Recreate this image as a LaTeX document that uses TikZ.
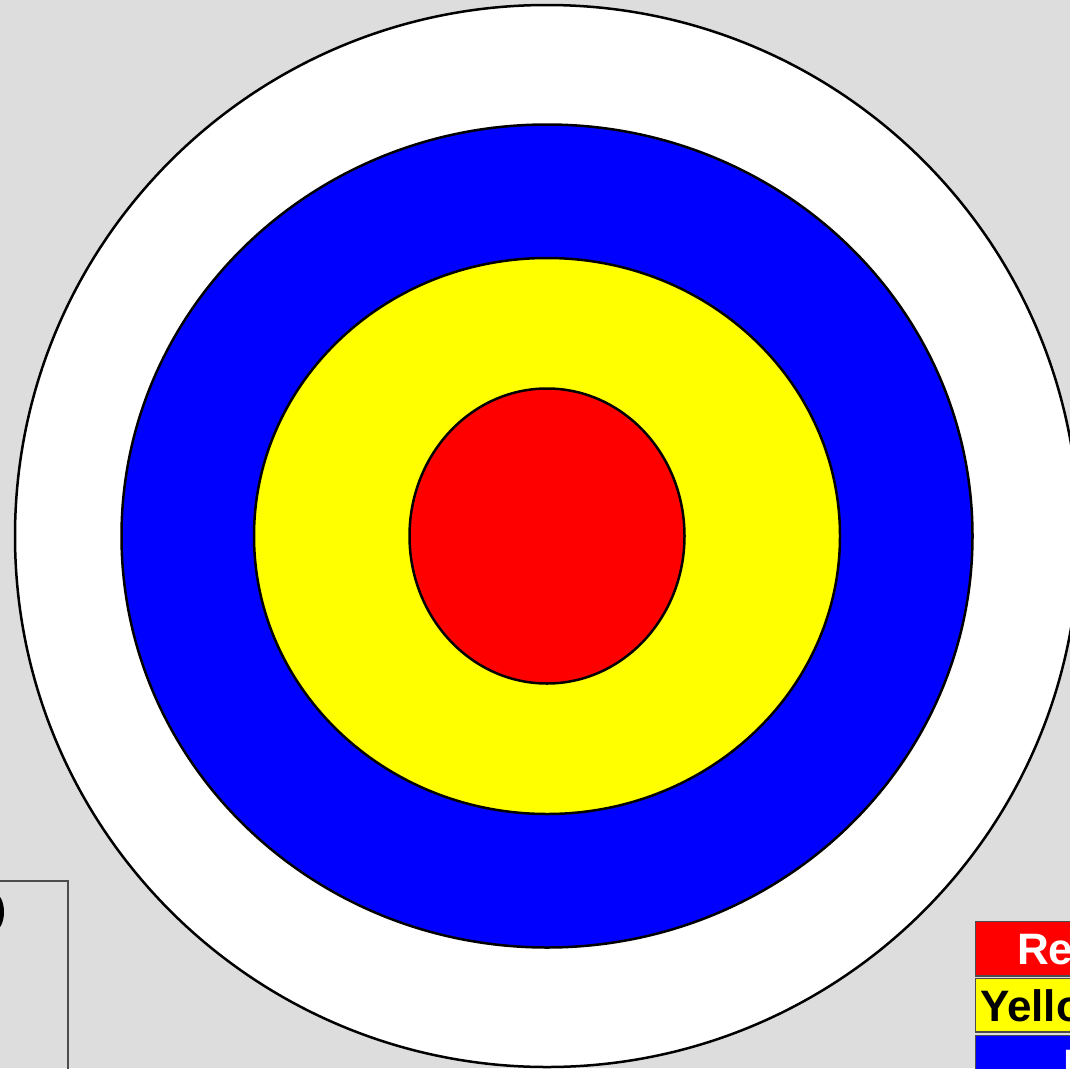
\documentclass[tikz,border=0pt]{standalone}
\usepackage{fontspec}
\setmainfont{Liberation Sans}
\begin{document}
\begin{tikzpicture}[x=1pt,y=-1pt,
  ring/.style={draw=black,line width=2.5pt},
  legbox/.style={draw=black!70,line width=1.2pt},
  legtext/.style={font=\fontsize{44}{44}\selectfont\bfseries,inner sep=0pt,anchor=base west}]
\useasboundingbox (0,0) rectangle (1070,1068);
\clip (0,0) rectangle (1070,1068);
\fill[fill={rgb,255:red,221;green,221;blue,221}] (0,0) rectangle (1070,1068);
\coordinate (c) at (547,536);
\draw[ring,fill=white] (c) ellipse [x radius=532,y radius=531];
\draw[ring,fill={rgb,255:red,0;green,0;blue,255}] (c) ellipse [x radius=425.5,y radius=411.5];
\draw[ring,fill={rgb,255:red,255;green,255;blue,0}] (c) ellipse [x radius=293,y radius=278];
\draw[ring,fill={rgb,255:red,255;green,0;blue,0}] (c) ellipse [x radius=137.5,y radius=147.5];
% left box
\draw[legbox] (-10,881) rectangle (68,1090);
\fill[black] (-6,912) ellipse [x radius=10,y radius=19];
% legend
\draw[legbox,fill={rgb,255:red,255;green,0;blue,0}] (975.5,921.5) rectangle (1150,976);
\draw[legbox,fill={rgb,255:red,255;green,255;blue,0}] (975.5,978.5) rectangle (1150,1032);
\draw[legbox,fill={rgb,255:red,0;green,0;blue,255}] (975.5,1035.5) rectangle (1150,1090);
\node[legtext,text=white] (red) at (1017,964) {Red};
\node[legtext,text=black] (yellow) at (980,1021) {Yellow};
\node[legtext,text=white] (blue) at (1063,1080) {Blue};
\end{tikzpicture}
\end{document}
